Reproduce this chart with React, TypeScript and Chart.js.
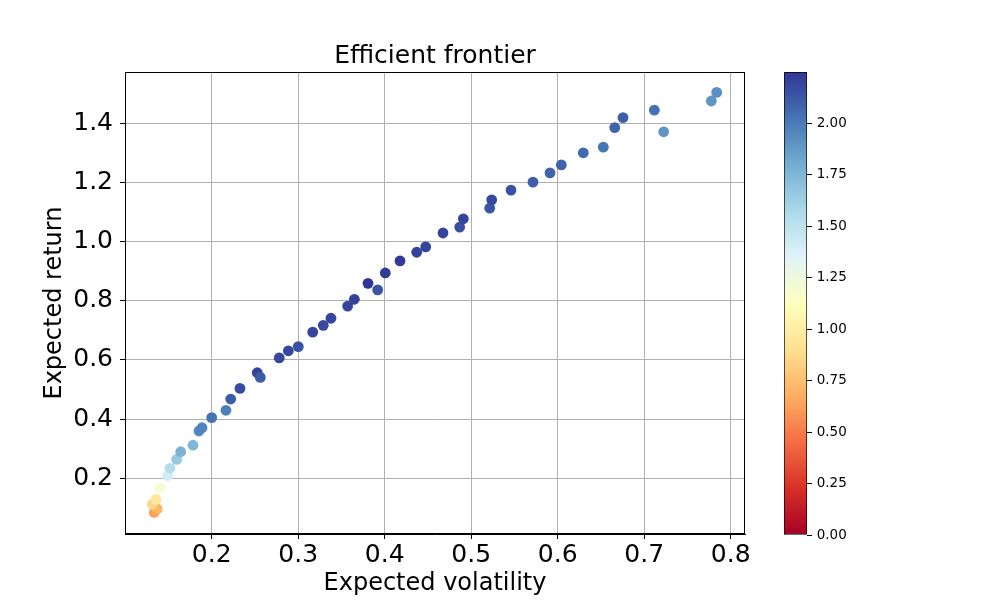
import React, { useEffect, useRef } from "react";
import { Chart, registerables } from "chart.js";

Chart.register(...registerables);

// ---- data ----
const volatility = [
  0.1336, 0.1371, 0.1313, 0.1356, 0.1402, 0.1491, 0.1518, 0.1595, 0.1642, 0.1784,
  0.1853, 0.1888, 0.2000, 0.2165, 0.2220, 0.2327, 0.2527, 0.2562, 0.2781, 0.2886,
  0.3001, 0.3168, 0.3290, 0.3379, 0.3572, 0.3649, 0.3807, 0.3919, 0.4007, 0.4177,
  0.4370, 0.4474, 0.4674, 0.4867, 0.4909, 0.5214, 0.5237, 0.5460, 0.5714, 0.5911,
  0.6042, 0.6296, 0.6527, 0.6659, 0.6755, 0.7117, 0.7225, 0.7776, 0.7838,
];
const expectedReturn = [
  0.085, 0.097, 0.113, 0.129, 0.168, 0.209, 0.234, 0.264, 0.290, 0.312,
  0.360, 0.371, 0.405, 0.430, 0.468, 0.504, 0.557, 0.541, 0.607, 0.631,
  0.645, 0.694, 0.717, 0.741, 0.782, 0.805, 0.859, 0.837, 0.894, 0.935,
  0.964, 0.982, 1.029, 1.049, 1.077, 1.113, 1.141, 1.174, 1.201, 1.232,
  1.259, 1.300, 1.319, 1.385, 1.419, 1.444, 1.371, 1.475, 1.504,
];
const xTicks = [0.2, 0.3, 0.4, 0.5, 0.6, 0.7, 0.8];
const yTicks = [0.2, 0.4, 0.6, 0.8, 1.0, 1.2, 1.4];
const colorbarTicks = [0, 0.25, 0.5, 0.75, 1.0, 1.25, 1.5, 1.75, 2.0];
const X_MIN = 0.0998;
const X_MAX = 0.8165;
const Y_MIN = 0.012;
const Y_MAX = 1.573;
const CB_MIN = 0;
const CB_MAX = 2.248;

const TITLE = "Efficient frontier";
const X_LABEL = "Expected volatility";
const Y_LABEL = "Expected return";

// matplotlib RdYlBu
const RDYLBU = [
  "#a50026", "#d73027", "#f46d43", "#fdae61", "#fee090", "#ffffbf",
  "#e0f3f8", "#abd9e9", "#74add1", "#4575b4", "#313695",
];

const FONT = "'DejaVu Sans', sans-serif";

function hexToRgb(h: string) {
  const n = parseInt(h.slice(1), 16);
  return [(n >> 16) & 255, (n >> 8) & 255, n & 255];
}

function cmap(v: number) {
  let t = (v - CB_MIN) / (CB_MAX - CB_MIN);
  t = Math.max(0, Math.min(1, t));
  const pos = t * (RDYLBU.length - 1);
  const i = Math.min(Math.floor(pos), RDYLBU.length - 2);
  const f = pos - i;
  const a = hexToRgb(RDYLBU[i]);
  const b = hexToRgb(RDYLBU[i + 1]);
  const c = a.map((x, k) => Math.round(x + (b[k] - x) * f));
  return `rgb(${c[0]},${c[1]},${c[2]})`;
}

const framePlugin = {
  id: "frame",
  afterDraw(chart: any) {
    const { ctx, chartArea: a } = chart;
    ctx.save();
    ctx.strokeStyle = "#000";
    ctx.lineWidth = 1;
    ctx.strokeRect(Math.round(a.left) + 0.5, Math.round(a.top) + 0.5, Math.round(a.right - a.left) - 1, Math.round(a.bottom - a.top) - 1);
    ctx.restore();
  },
};

// title centred over the plot area (as matplotlib does)
const axesTitlePlugin = {
  id: "axesTitle",
  afterDraw(chart: any) {
    const { ctx, chartArea: a } = chart;
    ctx.save();
    ctx.fillStyle = "#000";
    ctx.font = `normal 25px ${FONT}`;
    ctx.textAlign = "center";
    ctx.textBaseline = "alphabetic";
    ctx.fillText(TITLE, (a.left + a.right) / 2, a.top - 9);
    ctx.restore();
  },
};

export default function App() {
  const mainRef = useRef<HTMLCanvasElement>(null);
  const cbRef = useRef<HTMLCanvasElement>(null);

  useEffect(() => {
    const points = volatility.map((x, i) => ({ x, y: expectedReturn[i] }));
    const colors = volatility.map((x, i) => cmap(expectedReturn[i] / x));

    const main = new Chart(mainRef.current!, {
      type: "scatter",
      data: {
        datasets: [
          {
            data: points,
            backgroundColor: colors,
            borderWidth: 0,
            pointRadius: 5.4,
            pointHoverRadius: 5.4,
          },
        ],
      },
      options: {
        responsive: false,
        animation: false,
        devicePixelRatio: 1,
        layout: { padding: { left: 0, right: 255, top: 72, bottom: 0 } },
        plugins: {
          legend: { display: false },
          tooltip: { enabled: false },
          title: { display: false },
        },
        scales: {
          x: {
            type: "linear",
            min: X_MIN,
            max: X_MAX,
            z: 1,
            afterBuildTicks: (s: any) => {
              s.ticks = xTicks.map((v) => ({ value: v }));
            },
            afterFit: (s: any) => {
              s.height = 66;
            },
            ticks: {
              color: "#000",
              font: { family: FONT, size: 25, lineHeight: 1.2 },
              padding: 1,
              maxRotation: 0,
              callback: (v: any) => Number(v).toFixed(1),
            },
            grid: { color: "#b0b0b0", lineWidth: 1, tickColor: "#000", tickLength: 5, tickWidth: 1 },
            border: { color: "#000", width: 1 },
            title: {
              display: true,
              text: X_LABEL,
              color: "#000",
              font: { family: FONT, size: 24, lineHeight: 1.2 },
              padding: { top: 0, bottom: 2.2 },
            },
          },
          y: {
            type: "linear",
            min: Y_MIN,
            max: Y_MAX,
            z: 1,
            afterBuildTicks: (s: any) => {
              s.ticks = yTicks.map((v) => ({ value: v }));
            },
            afterFit: (s: any) => {
              s.width = 125;
            },
            ticks: {
              color: "#000",
              font: { family: FONT, size: 25, lineHeight: 1.2 },
              padding: 7,
              callback: (v: any) => Number(v).toFixed(1),
            },
            grid: { color: "#b0b0b0", lineWidth: 1, tickColor: "#000", tickLength: 5, tickWidth: 1 },
            border: { color: "#000", width: 1 },
            title: {
              display: true,
              text: Y_LABEL,
              color: "#000",
              font: { family: FONT, size: 24, lineHeight: 1.2 },
              padding: { top: 40.6, bottom: 0 },
            },
          },
        },
      },
      plugins: [framePlugin, axesTitlePlugin],
    } as any);

    const cb = new Chart(cbRef.current!, {
      type: "bar",
      data: {
        labels: [""],
        datasets: [
          {
            data: [[CB_MIN, CB_MAX]],
            backgroundColor: (ctx: any) => {
              const chart = ctx.chart;
              const ys = chart.scales && chart.scales.y;
              if (!ys || !chart.chartArea) return "#888";
              const y0 = ys.getPixelForValue(CB_MIN);
              const y1 = ys.getPixelForValue(CB_MAX);
              const g = chart.ctx.createLinearGradient(0, y0, 0, y1);
              RDYLBU.forEach((c, i) => g.addColorStop(i / (RDYLBU.length - 1), c));
              return g;
            },
            borderColor: "#000",
            borderWidth: 1,
            borderSkipped: false,
            barPercentage: 1,
            categoryPercentage: 1,
          },
        ],
      },
      options: {
        responsive: false,
        animation: false,
        devicePixelRatio: 1,
        layout: { padding: { left: 24, right: 0, top: 72, bottom: 65 } },
        plugins: { legend: { display: false }, tooltip: { enabled: false }, title: { display: false } },
        scales: {
          x: { display: false },
          y: {
            type: "linear",
            position: "right",
            min: CB_MIN,
            max: CB_MAX,
            afterBuildTicks: (s: any) => {
              s.ticks = colorbarTicks.map((v) => ({ value: v }));
            },
            afterFit: (s: any) => {
              s.width = 193;
            },
            ticks: {
              color: "#000",
              font: { family: FONT, size: 13.5 },
              padding: 4.7,
              callback: (v: any) => Number(v).toFixed(2),
            },
            grid: { drawOnChartArea: false, drawTicks: true, tickLength: 5, tickColor: "#000", tickWidth: 1 },
            border: { display: false },
          },
        },
      },
    } as any);

    return () => {
      main.destroy();
      cb.destroy();
    };
  }, []);

  return (
    <div style={{ position: "fixed", left: 0, top: 0, width: 1000, height: 600, background: "#fff" }}>
      <canvas ref={mainRef} width={1000} height={600} style={{ position: "absolute", left: 0, top: 0, width: 1000, height: 600 }} />
      <canvas ref={cbRef} width={240} height={600} style={{ position: "absolute", left: 760, top: 0, width: 240, height: 600 }} />
    </div>
  );
}
